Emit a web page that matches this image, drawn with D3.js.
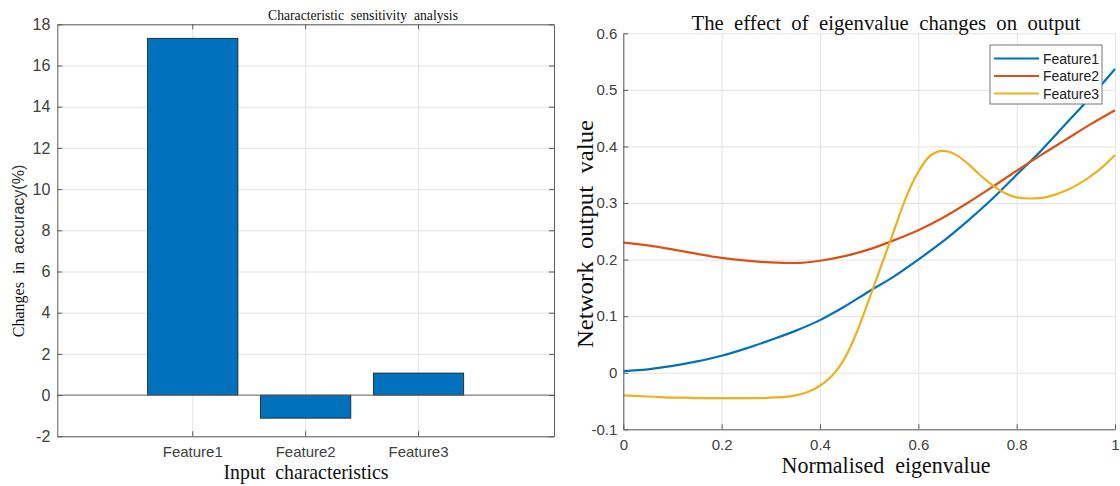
<!DOCTYPE html>
<html>
<head>
<meta charset="utf-8">
<script src="https://cdn.jsdelivr.net/npm/d3@7"></script>
<style>
  body { margin: 0; background: #fff; }
  svg { display: block; }
  .tick text { fill: #404040; font-family: "Liberation Sans", Arial, sans-serif; }
  .serif { font-family: "Liberation Serif", "Times New Roman", serif; fill: #111; white-space: pre; }
</style>
</head>
<body>
<div id="chart"></div>
<script>
// ---- data: left panel (bar chart) ----
var categories = ["Feature1", "Feature2", "Feature3"];
var accuracyChange = [17.32, -1.12, 1.07];
var barTicks = [-2, 0, 2, 4, 6, 8, 10, 12, 14, 16, 18];

// ---- data: right panel (line chart) ----
var xsCoarse = [0, 0.05, 0.1, 0.15, 0.2, 0.25, 0.3, 0.35, 0.4, 0.45, 0.5,
                0.55, 0.6, 0.65, 0.7, 0.75, 0.8, 0.85, 0.9, 0.95, 1];
var feature1 = [0.003, 0.006, 0.012, 0.020, 0.030, 0.043, 0.058, 0.074, 0.093, 0.117, 0.144,
                0.170, 0.200, 0.232, 0.268, 0.307, 0.350, 0.393, 0.440, 0.487, 0.537];
var feature2 = [0.230, 0.225, 0.218, 0.210, 0.203, 0.198, 0.195, 0.194, 0.198, 0.206, 0.218,
                0.234, 0.252, 0.274, 0.300, 0.328, 0.357, 0.385, 0.412, 0.439, 0.464];
var xsFine = [0, 0.025, 0.05, 0.075, 0.1, 0.125, 0.15, 0.175, 0.2, 0.225, 0.25, 0.275, 0.3,
              0.325, 0.35, 0.375, 0.4, 0.425, 0.45, 0.475, 0.5, 0.525, 0.55, 0.575, 0.6,
              0.625, 0.65, 0.675, 0.7, 0.725, 0.75, 0.775, 0.8, 0.825, 0.85, 0.875, 0.9,
              0.925, 0.95, 0.975, 1];
var feature3 = [-0.040, -0.041, -0.042, -0.043, -0.044, -0.044, -0.045, -0.045, -0.045, -0.045,
                -0.045, -0.045, -0.044, -0.043, -0.040, -0.034, -0.023, -0.005, 0.025, 0.072,
                0.130, 0.190, 0.250, 0.310, 0.355, 0.384, 0.392, 0.386, 0.370, 0.350,
                0.332, 0.318, 0.310, 0.308, 0.309, 0.314, 0.322, 0.333, 0.347, 0.364, 0.385];
var lineTicksX = [0, 0.2, 0.4, 0.6, 0.8, 1];
var lineTicksY = [-0.1, 0, 0.1, 0.2, 0.3, 0.4, 0.5, 0.6];
var seriesNames = ["Feature1", "Feature2", "Feature3"];
var seriesColors = ["#0072BD", "#D95319", "#EDB120"];

var svgWidth = 1120, svgHeight = 486;
var svg = d3.select("#chart").append("svg")
    .attr("width", svgWidth)
    .attr("height", svgHeight);

var gridColor = "#e3e3e3";
var axisColor = "#5a5a5a";

// matlab style labels: plain hyphen for negatives
var fmt = d => String(+d.toFixed(4)).replace("\u2212", "-");

function styleAxis(g) {
  g.select(".domain").attr("stroke", axisColor);
  g.selectAll(".tick line").attr("stroke", axisColor);
}

// ================= LEFT PANEL =================
var L = { left: 57.3, right: 554, top: 24.3, bottom: 436.3 };

var xBand = d3.scaleBand()
    .domain(categories)
    .range([L.left, L.right])
    .paddingInner(0.2)
    .paddingOuter(0.8);

var yBar = d3.scaleLinear()
    .domain([-2, 18])
    .range([L.bottom, L.top]);

var left = svg.append("g");

// grid
left.append("g")
    .attr("transform", `translate(0, ${L.bottom})`)
    .call(d3.axisBottom(xBand).tickSize(-(L.bottom - L.top)).tickFormat(""))
    .call(g => g.select(".domain").remove())
    .selectAll(".tick line").attr("stroke", gridColor);
left.append("g")
    .attr("transform", `translate(${L.left}, 0)`)
    .call(d3.axisLeft(yBar).tickValues(barTicks).tickSize(-(L.right - L.left)).tickFormat(""))
    .call(g => g.select(".domain").remove())
    .selectAll(".tick line").attr("stroke", gridColor);

// bars
left.selectAll("rect.bar")
    .data(accuracyChange)
    .enter()
    .append("rect")
    .attr("class", "bar")
    .attr("x", (d, i) => xBand(categories[i]))
    .attr("width", xBand.bandwidth())
    .attr("y", d => yBar(Math.max(0, d)))
    .attr("height", d => Math.abs(yBar(d) - yBar(0)))
    .attr("fill", "#0072BD")
    .attr("stroke", "#1a1a1a")
    .attr("stroke-width", 0.8);

// baseline at zero
left.append("line")
    .attr("x1", L.left).attr("x2", L.right)
    .attr("y1", yBar(0)).attr("y2", yBar(0))
    .attr("stroke", "#6a6a6a");

// axes (box on, ticks inside)
left.append("g")
    .attr("transform", `translate(0, ${L.bottom})`)
    .call(d3.axisBottom(xBand).tickSize(-5).tickSizeOuter(0).tickPadding(10))
    .call(styleAxis)
    .selectAll("text").style("font-size", "15px");
left.append("g")
    .attr("transform", `translate(0, ${L.top})`)
    .call(d3.axisTop(xBand).tickSize(-5).tickSizeOuter(0).tickFormat(""))
    .call(styleAxis);
left.append("g")
    .attr("transform", `translate(${L.left}, 0)`)
    .call(d3.axisLeft(yBar).tickValues(barTicks).tickSize(-5).tickSizeOuter(0).tickPadding(7)
      .tickFormat(fmt))
    .call(styleAxis)
    .selectAll("text").style("font-size", "16px");
left.append("g")
    .attr("transform", `translate(${L.right}, 0)`)
    .call(d3.axisRight(yBar).tickValues(barTicks).tickSize(-5).tickSizeOuter(0).tickFormat(""))
    .call(styleAxis);

// titles
left.append("text")
    .attr("class", "serif")
    .attr("x", 363).attr("y", 20)
    .attr("text-anchor", "middle")
    .attr("textLength", 190)
    .attr("lengthAdjust", "spacingAndGlyphs")
    .style("font-size", "15px")
    .text("Characteristic  sensitivity  analysis");

left.append("text")
    .attr("class", "serif")
    .attr("x", 306).attr("y", 479)
    .attr("text-anchor", "middle")
    .attr("textLength", 165)
    .attr("lengthAdjust", "spacingAndGlyphs")
    .style("font-size", "21px")
    .text("Input  characteristics");

var yLab = left.append("text")
    .attr("transform", "translate(24, 251) rotate(-90)")
    .attr("text-anchor", "middle")
    .style("font-size", "16px")
    .style("white-space", "pre")
    .attr("fill", "#111");
yLab.append("tspan")
    .style("font-family", "'Liberation Serif', serif")
    .text("Changes  in  ");
yLab.append("tspan")
    .style("font-family", "'Liberation Sans', Arial, sans-serif")
    .attr("fill", "#333")
    .text("accuracy(%)");

// ================= RIGHT PANEL =================
var R = { left: 623.3, right: 1115, top: 33.3, bottom: 429.3 };

var xLine = d3.scaleLinear().domain([0, 1]).range([R.left, R.right]);
var yLine = d3.scaleLinear().domain([-0.1, 0.6]).range([R.bottom, R.top]);

var right = svg.append("g");

right.append("g")
    .attr("transform", `translate(0, ${R.bottom})`)
    .call(d3.axisBottom(xLine).tickValues(lineTicksX).tickSize(-(R.bottom - R.top)).tickFormat(""))
    .call(g => g.select(".domain").remove())
    .selectAll(".tick line").attr("stroke", gridColor);
right.append("g")
    .attr("transform", `translate(${R.left}, 0)`)
    .call(d3.axisLeft(yLine).tickValues(lineTicksY).tickSize(-(R.right - R.left)).tickFormat(""))
    .call(g => g.select(".domain").remove())
    .selectAll(".tick line").attr("stroke", gridColor);

var seriesData = [
  xsCoarse.map((x, i) => [x, feature1[i]]),
  xsCoarse.map((x, i) => [x, feature2[i]]),
  xsFine.map((x, i) => [x, feature3[i]])
];

var line = d3.line()
    .x(d => xLine(d[0]))
    .y(d => yLine(d[1]))
    .curve(d3.curveMonotoneX);

right.selectAll("path.series")
    .data(seriesData)
    .enter()
    .append("path")
    .attr("class", "series")
    .attr("d", line)
    .attr("fill", "none")
    .attr("stroke", (d, i) => seriesColors[i])
    .attr("stroke-width", 2.2);

right.append("g")
    .attr("transform", `translate(0, ${R.bottom})`)
    .call(d3.axisBottom(xLine).tickValues(lineTicksX).tickSize(-5).tickSizeOuter(0).tickPadding(10)
      .tickFormat(fmt))
    .call(styleAxis)
    .selectAll("text").style("font-size", "15px");
right.append("g")
    .attr("transform", `translate(${R.left}, 0)`)
    .call(d3.axisLeft(yLine).tickValues(lineTicksY).tickSize(-5).tickSizeOuter(0).tickPadding(6)
      .tickFormat(fmt))
    .call(styleAxis)
    .selectAll("text").style("font-size", "15px");

// legend
var legend = right.append("g");
legend.append("rect")
    .attr("x", 990).attr("y", 45)
    .attr("width", 112).attr("height", 59)
    .attr("fill", "#fff")
    .attr("stroke", "#777");
seriesNames.forEach(function(name, i) {
  var yy = 58.5 + i * 17.5;
  legend.append("line")
      .attr("x1", 994).attr("x2", 1039)
      .attr("y1", yy).attr("y2", yy)
      .attr("stroke", seriesColors[i])
      .attr("stroke-width", 2.2);
  legend.append("text")
      .attr("x", 1043).attr("y", yy + 5)
      .style("font-family", "'Liberation Sans', Arial, sans-serif")
      .style("font-size", "14px")
      .attr("fill", "#222")
      .text(name);
});

right.append("text")
    .attr("class", "serif")
    .attr("x", 886).attr("y", 30)
    .attr("text-anchor", "middle")
    .attr("textLength", 389)
    .attr("lengthAdjust", "spacingAndGlyphs")
    .style("font-size", "22px")
    .text("The  effect  of  eigenvalue  changes  on  output");

right.append("text")
    .attr("class", "serif")
    .attr("x", 886).attr("y", 473)
    .attr("text-anchor", "middle")
    .attr("textLength", 209)
    .attr("lengthAdjust", "spacingAndGlyphs")
    .style("font-size", "23px")
    .text("Normalised  eigenvalue");

right.append("text")
    .attr("class", "serif")
    .attr("transform", "translate(593, 234) rotate(-90)")
    .attr("text-anchor", "middle")
    .attr("textLength", 228)
    .attr("lengthAdjust", "spacingAndGlyphs")
    .style("font-size", "23px")
    .text("Network  output  value");
</script>
</body>
</html>
